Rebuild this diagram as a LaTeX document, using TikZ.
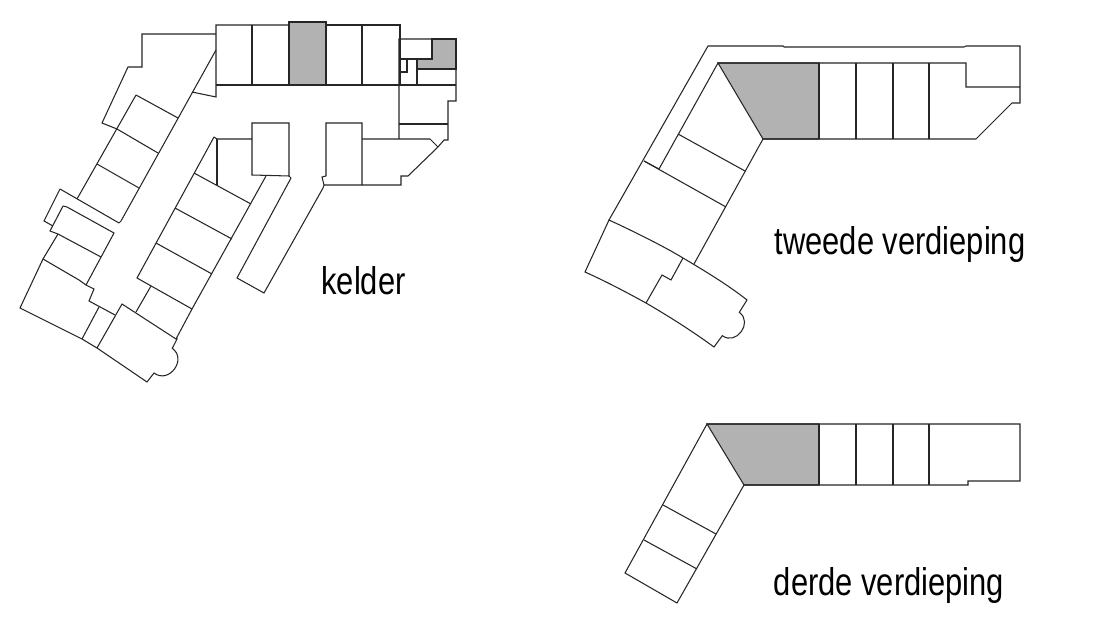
\documentclass[tikz,border=0pt]{standalone}
\usepackage{fontspec}
\setmainfont{Liberation Sans}
\tikzset{
  wall/.style={draw=black!85,line width=1.05pt,line join=miter},
  room/.style={wall,fill=black!30},
  label/.style={inner sep=0pt,anchor=center,font=\fontsize{30.9}{34}\selectfont,yscale=1.25}
}
\begin{document}
\begin{tikzpicture}[x=1pt,y=-1pt]
\useasboundingbox[fill=white] (0,0) rectangle (1112,631);
% ---------- kelder ----------
\path[room] (289,22) rectangle (326,85);
\path[room] (432,39) -- (456,39) -- (456,69) -- (417,69) -- (417,59) -- (432,59) -- cycle;
% top row
\draw[wall] (289,25) -- (216,25) -- (216,97) -- (192,92);
\draw[wall] (326,25) -- (400,25) -- (400,85);
\draw[wall] (216,85) -- (400,85);
\draw[wall] (252,25) -- (252,85) (362,25) -- (362,85);
% left wing
\draw[wall] (216,34) -- (142,34) -- (142,67) -- (128,67) -- (102,123) -- (117,129);
\draw[wall] (216,50) -- (121,221) -- (119,223);
\draw[wall] (136,95) -- (178,118);
\draw[wall] (136,95) -- (77,199);
\draw[wall] (117,129) -- (158,153);
\draw[wall] (97,164) -- (139,188);
\draw[wall] (60,189) -- (119,223);
\draw[wall] (60,189) -- (44,221) -- (53,226);
% lower-left block
\draw[wall] (63,206) -- (67,207) -- (114,233) -- (86,285);
\draw[wall] (63,206) -- (50,231) -- (58,234) -- (101,257);
\draw[wall] (58,234) -- (43,259) -- (79,280) -- (86,285) -- (94,289) -- (89,301) -- (115,315);
\draw[wall] (43,259) -- (20,308) -- (82,339) -- (97,348) -- (147,382) -- (154,373)
   .. controls (169.1,384.3) and (187.4,359.3) .. (172.3,348.3) -- (177,339) -- (176,339) -- (122,304) -- (97,348);
\draw[wall] (99,307) -- (82,339);
% central rooms
\draw[wall] (214,137) -- (137,278) -- (192,309) -- (176,339);
\draw[wall] (214,137) -- (217,139) -- (252,139);
\draw[wall] (217,139) -- (217,185);
\draw[wall] (194,173) -- (251,204);
\draw[wall] (175,208) -- (232,239);
\draw[wall] (156,243) -- (212,274);
\draw[wall] (151,286) -- (136,312);
\draw[wall] (252,123) -- (289,123) -- (289,176) -- (252,175) -- cycle;
\draw[wall] (266,176) -- (192,309);
\draw[wall] (289,176) -- (291,178) -- (237,278) -- (264,293) -- (323,188) -- (324,185) -- (322,177) -- (326,176) -- (326,123) -- (362,123) -- (362,185) -- (324,185);
% right block
\draw[wall] (362,185) -- (401,185) -- (401,176) -- (408,176) -- (438,147) -- (444,140) -- (448,140) -- (448,101) -- (456,101) -- (456,39) -- (399,39) -- (399,139);
\draw[wall] (362,139) -- (430,139) -- (438,147);
\draw[wall] (399,124) -- (448,124);
\draw[wall] (399,85) -- (456,85);
\draw[wall] (417,69) -- (456,69);
\draw[wall] (417,85) -- (417,59);
\draw[wall] (399,59) -- (432,59) -- (432,39);
\draw[wall] (399,72) -- (407,72) -- (407,59);
% ---------- tweede verdieping ----------
\path[room] (718,63) -- (819,63) -- (819,139) -- (763,139) -- cycle;
\draw[wall] (609,220) -- (708,46) -- (783,46) -- (784,47) -- (964,47) -- (966,46) -- (1020,46) -- (1020,103) -- (1012,103) -- (976,139) -- (763,139) -- (694,264);
\draw[wall] (659,169) -- (718,63) -- (966,63) -- (966,87) -- (1020,87);
\draw[wall] (819,63) -- (819,139) (856,63) -- (856,139) (893,63) -- (893,139) (929,63) -- (929,139);
\draw[wall] (678,134) -- (745,171);
\draw[wall] (644,161) -- (726,207);
\draw[wall] (659,169) -- (644,161);
\draw[wall] (609,220) .. controls (635,232) and (665,247) .. (683,258)
   .. controls (705,271) and (728,285) .. (747,300) -- (739.3,312.3)
   .. controls (753.3,322.5) and (736.3,345.9) .. (722.3,335.7) -- (714,347)
   .. controls (692,331) and (670,317) .. (646,303)
   .. controls (626,292) and (605,281) .. (585,272) -- cycle;
\draw[wall] (683,258) -- (671,280) -- (662,275) -- (646,303);
% ---------- derde verdieping ----------
\path[room] (707,424) -- (819,424) -- (819,485) -- (744,485) -- cycle;
\draw[wall] (625,573) -- (707,424) -- (1020,424) -- (1020,481) -- (968,481) -- (968,485) -- (744,485) -- (677,603) -- cycle;
\draw[wall] (819,424) -- (819,485) (856,424) -- (856,485) (893,424) -- (893,485) (929,424) -- (929,485);
\draw[wall] (663,505) -- (716,534);
\draw[wall] (644,540) -- (697,569);
% ---------- labels ----------
\node[label] (kelder) at (363.5,281) {kelder};
\node[label] (tweede) at (900,245) {tweede verdieping};
\node[label] (derde) at (889,586) {derde verdieping};
\end{tikzpicture}
\end{document}
